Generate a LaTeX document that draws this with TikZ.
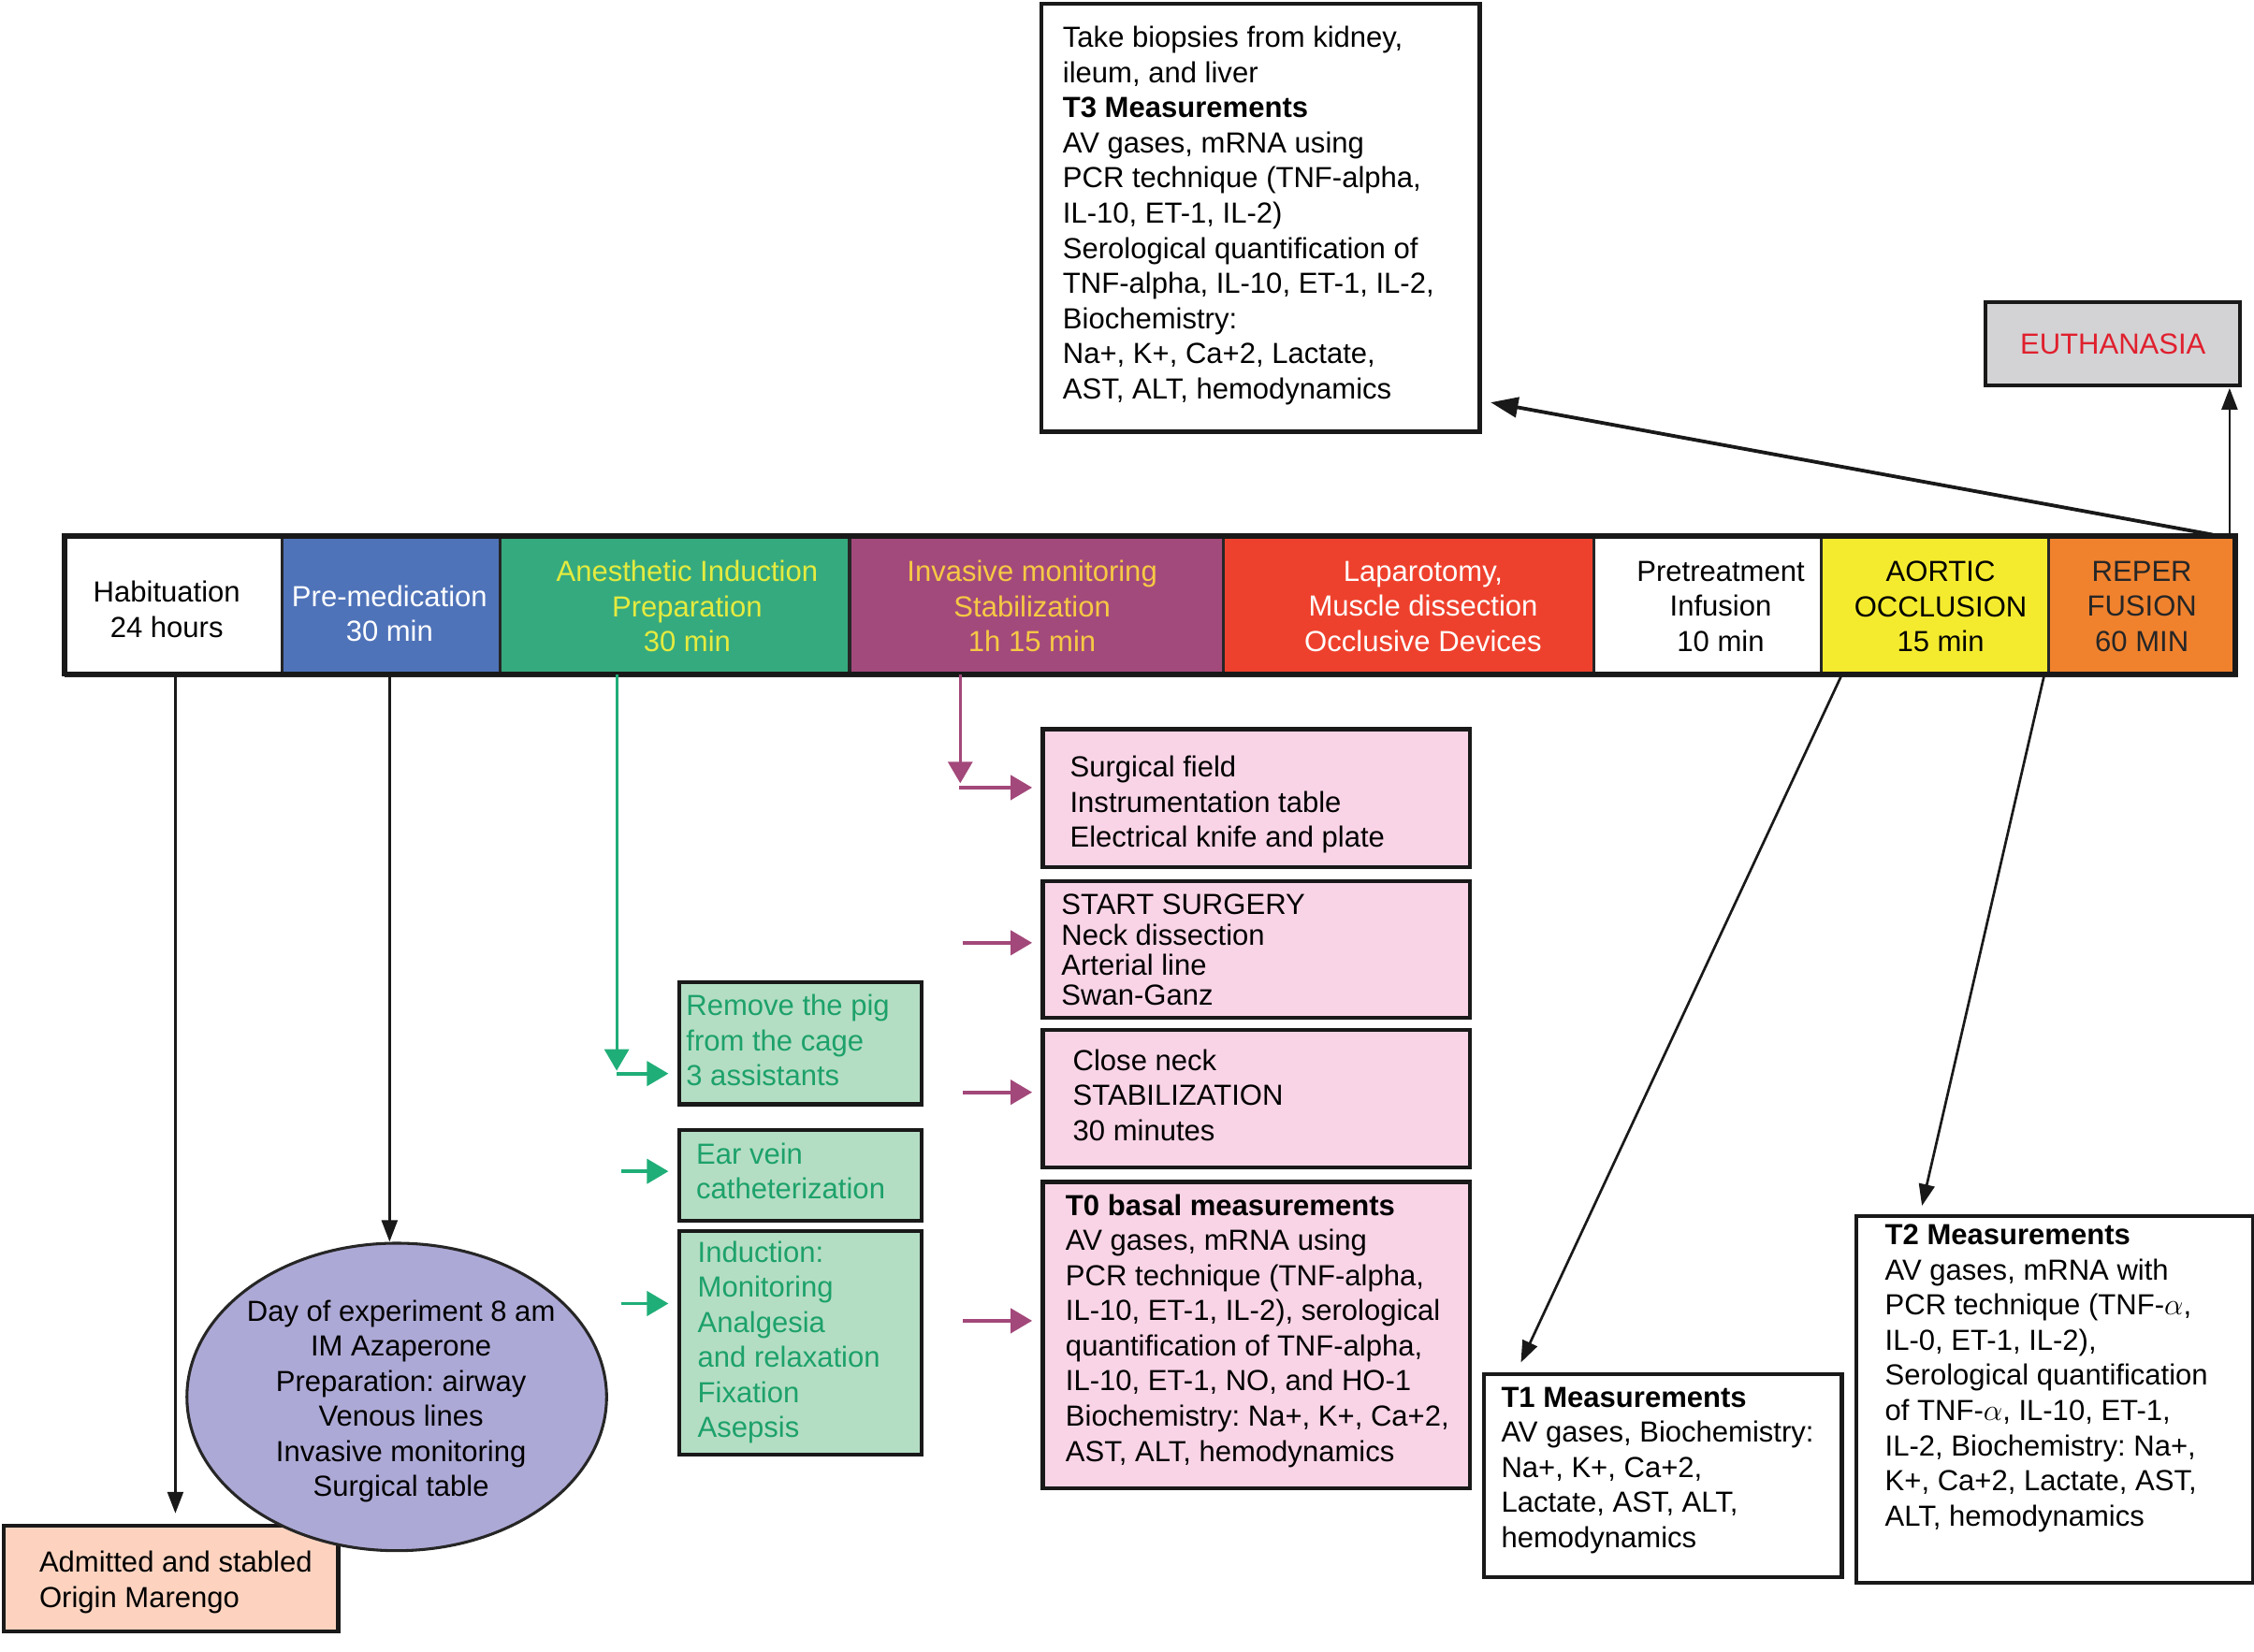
\documentclass[tikz,border=0pt]{standalone}
\usepackage{fontspec}
\setmainfont{Liberation Sans}
\usetikzlibrary{arrows.meta,shapes.geometric,calc}
\definecolor{cblue}{HTML}{4F73B9}
\definecolor{cgreen}{HTML}{36AA7F}
\definecolor{cpurple}{HTML}{A34A7C}
\definecolor{cred}{HTML}{EE412D}
\definecolor{cyel}{HTML}{F4EB2E}
\definecolor{corange}{HTML}{F0822E}
\definecolor{tyel}{HTML}{E5EB3F}
\definecolor{tgold}{HTML}{F6C944}
\definecolor{cgray}{HTML}{D3D3D5}
\definecolor{tred}{HTML}{E0202E}
\definecolor{cpink}{HTML}{F9D4E6}
\definecolor{cgbox}{HTML}{B4DEC4}
\definecolor{tgreen}{HTML}{1DA16B}
\definecolor{cgarr}{HTML}{1FAE78}
\definecolor{cparr}{HTML}{A3487A}
\definecolor{clav}{HTML}{ADA9D6}
\definecolor{cpeach}{HTML}{FDD3C0}
\frenchspacing
\begin{document}
\begin{tikzpicture}[x=0.02cm,y=-0.02cm,
 every node/.style={font=\fontsize{11.5}{13.9}\selectfont\frenchspacing, inner sep=0pt},
 cell/.style={draw=black!85, line width=0.04cm, anchor=north west, minimum height=1.92cm},
 ctxt/.style={align=center},
 box/.style={draw=black!90, line width=0.055cm, anchor=north west},
 txt/.style={anchor=west, align=left},
 blk/.style={draw=black!90, line width=0.035cm, -{Triangle[length=0.3cm,width=0.22cm]}},
 garr/.style={draw=cgarr, line width=0.05cm, -{Triangle[length=0.3cm,width=0.34cm]}},
 parr/.style={draw=cparr, line width=0.05cm, -{Triangle[length=0.3cm,width=0.34cm]}}]
\useasboundingbox (0,0) rectangle (1568,1149);

% timeline
\node[cell, fill=white, minimum width=3.0cm] (hab) at (45,373) {};
\node[cell, fill=cblue, minimum width=3.04cm] (pre) at (195,373) {};
\node[cell, fill=cgreen, minimum width=4.86cm] (ane) at (347,373) {};
\node[cell, fill=cpurple, minimum width=5.2cm] (inv) at (590,373) {};
\node[cell, fill=cred, minimum width=5.16cm] (lap) at (850,373) {};
\node[cell, fill=white, minimum width=3.16cm] (ptr) at (1108,373) {};
\node[cell, fill=cyel, minimum width=3.16cm] (aor) at (1266,373) {};
\node[cell, fill=corange, minimum width=2.62cm] (rep) at (1424,373) {};
\draw[line width=0.07cm, black!90] (45,373) rectangle (1555,469);
\node[ctxt] (habt) at (116,424) {Habituation\\24 hours};
\node[ctxt, text=white] (pret) at (271,427) {Pre-medication\\30 min};
\node[ctxt, text=tyel] (anet) at (478,422) {Anesthetic Induction\\Preparation\\30 min};
\node[ctxt, text=tgold] (invt) at (718,422) {Invasive monitoring\\Stabilization\\1h 15 min};
\node[ctxt, text=white] (lapt) at (990,422) {Laparotomy,\\Muscle dissection\\Occlusive Devices};
\node[ctxt] (ptrt) at (1197,422) {Pretreatment\\Infusion\\10 min};
\node[ctxt] (aort) at (1350,422) {AORTIC\\OCCLUSION\\15 min};
\node[ctxt, text=black!85] (rept) at (1490,422) {REPER\\FUSION\\60 MIN};

% top boxes
\node[box, fill=white, minimum width=6.1cm, minimum height=5.96cm] (t3) at (723,1) {};
\node[txt] (t3t) at (739,150) {Take biopsies from kidney,\\ileum, and liver\\\textbf{T3 Measurements}\\AV gases, mRNA using\\PCR technique (TNF-alpha,\\IL-10, ET-1, IL-2)\\Serological quantification of\\TNF-alpha, IL-10, ET-1, IL-2,\\Biochemistry:\\Na+, K+, Ca+2, Lactate,\\AST, ALT, hemodynamics};
\node[box, fill=cgray, minimum width=3.54cm, minimum height=1.16cm, text=tred] (eut) at (1380,209) {EUTHANASIA};

% left column
\node[box, fill=cpeach, minimum width=4.66cm, minimum height=1.48cm] (adm) at (1,1060) {};
\node[txt] (admt) at (27,1101) {Admitted and stabled\\Origin Marengo};
\node[ellipse, draw=black!85, line width=0.04cm, fill=clav, minimum width=5.84cm, minimum height=4.28cm] (ell) at (276,972) {};
\node[ctxt] (ellt) at (279,975) {Day of experiment 8 am\\IM Azaperone\\Preparation: airway\\Venous lines\\Invasive monitoring\\Surgical table};

% green boxes
\node[box, fill=cgbox, minimum width=3.38cm, minimum height=1.7cm] (g1) at (471,682) {};
\node[txt, text=tgreen] (g1t) at (477,724) {Remove the pig\\from the cage\\3 assistants};
\node[box, fill=cgbox, minimum width=3.38cm, minimum height=1.26cm] (g2) at (471,785) {};
\node[txt, text=tgreen] (g2t) at (484,815) {Ear vein\\catheterization};
\node[box, fill=cgbox, minimum width=3.38cm, minimum height=3.12cm] (g3) at (471,855) {};
\node[txt, text=tgreen] (g3t) at (485,934) {Induction:\\Monitoring\\Analgesia\\and relaxation\\Fixation\\Asepsis};

% pink boxes
\node[box, fill=cpink, minimum width=5.94cm, minimum height=1.92cm] (p1) at (724,506) {};
\node[txt] (p1t) at (744,560) {Surgical field\\Instrumentation table\\Electrical knife and plate};
\node[box, fill=cpink, minimum width=5.94cm, minimum height=1.9cm] (p2) at (724,612) {};
\node[txt, font=\fontsize{11.5}{11.95}\selectfont] (p2t) at (738,661) {START SURGERY\\Neck dissection\\Arterial line\\Swan-Ganz};
\node[box, fill=cpink, minimum width=5.94cm, minimum height=1.92cm] (p3) at (724,715) {};
\node[txt] (p3t) at (746,762) {Close neck\\STABILIZATION\\30 minutes};
\node[box, fill=cpink, minimum width=5.94cm, minimum height=4.26cm] (p4) at (724,821) {};
\node[txt] (p4t) at (741,926) {\textbf{T0 basal measurements}\\AV gases, mRNA using\\PCR technique (TNF-alpha,\\IL-10, ET-1, IL-2), serological\\quantification of TNF-alpha,\\IL-10, ET-1, NO, and HO-1\\Biochemistry: Na+, K+, Ca+2,\\AST, ALT, hemodynamics};

% right boxes
\node[box, fill=white, minimum width=4.98cm, minimum height=2.82cm] (t1) at (1031,955) {};
\node[txt] (t1t) at (1044,1023) {\textbf{T1 Measurements}\\AV gases, Biochemistry:\\Na+, K+, Ca+2,\\Lactate, AST, ALT,\\hemodynamics};
\node[box, fill=white, minimum width=5.52cm, minimum height=5.1cm] (t2) at (1290,845) {};
\node[txt] (t2t) at (1311,959) {\textbf{T2 Measurements}\\AV gases, mRNA with\\PCR technique (TNF-$\alpha$,\\IL-0, ET-1, IL-2),\\Serological quantification\\of TNF-$\alpha$, IL-10, ET-1,\\IL-2, Biochemistry: Na+,\\K+, Ca+2, Lactate, AST,\\ALT, hemodynamics};

% coordinates for connector ends
\coordinate (hs) at (122,469);
\coordinate (he) at (122,1053);
\coordinate (ps) at (271,469);
\coordinate (pe) at (271,864);
\coordinate (gs) at (429,469);
\coordinate (ge) at (429,745);
\coordinate (g1s) at (429,747);
\coordinate (g1e) at (465,747);
\coordinate (g2s) at (432,815);
\coordinate (g2e) at (465,815);
\coordinate (g3s) at (432,907);
\coordinate (g3e) at (465,907);
\coordinate (vs) at (668,469);
\coordinate (ve) at (668,545);
\coordinate (p1s) at (667,548);
\coordinate (p1e) at (718,548);
\coordinate (p2s) at (670,656);
\coordinate (p2e) at (718,656);
\coordinate (p3s) at (670,760);
\coordinate (p3e) at (718,760);
\coordinate (p4s) at (670,919);
\coordinate (p4e) at (718,919);
\coordinate (r1) at (1539,372);
\coordinate (t3e) at (1037,280);
\coordinate (r2) at (1551,372);
\coordinate (eue) at (1551,270);
\coordinate (a1) at (1281,470);
\coordinate (t1e) at (1058,948);
\coordinate (a2) at (1422,470);
\coordinate (t2e) at (1337,839);

\draw[blk] (hs) -- (he);
\draw[blk] (ps) -- (pe);
\draw[garr, line width=0.04cm] (gs) -- (ge);
\draw[garr] (g1s) -- (g1e);
\draw[garr] (g2s) -- (g2e);
\draw[garr] (g3s) -- (g3e);
\draw[parr, line width=0.04cm] (vs) -- (ve);
\draw[parr] (p1s) -- (p1e);
\draw[parr] (p2s) -- (p2e);
\draw[parr] (p3s) -- (p3e);
\draw[parr] (p4s) -- (p4e);
\draw[blk, line width=0.05cm, -{Triangle[length=0.38cm,width=0.28cm]}] (r1) -- (t3e);
\draw[blk] (r2) -- (eue);
\draw[blk] (a1) -- (t1e);
\draw[blk] (a2) -- (t2e);
\end{tikzpicture}
\end{document}
